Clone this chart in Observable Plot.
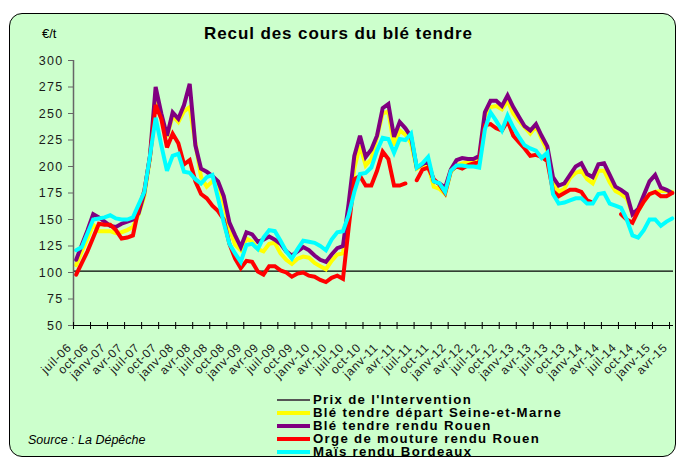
<!DOCTYPE html>
<html><head><meta charset="utf-8">
<script src="https://cdn.jsdelivr.net/npm/d3@7"></script>
<script src="https://cdn.jsdelivr.net/npm/@observablehq/plot@0.6"></script>
<style>
html,body{margin:0;padding:0;background:#fff;}
#wrap{position:relative;width:677px;height:459px;overflow:hidden;font-family:"Liberation Sans",Arial,sans-serif;color:#000;}
#panel{position:absolute;left:9px;top:13px;width:667px;height:444px;background:#ccffcc;border:1.5px solid #000;border-radius:13px;box-sizing:border-box;}
#chart{position:absolute;left:0;top:0;}
#title{position:absolute;left:0;width:677px;top:24px;text-align:center;font-weight:bold;font-size:17px;letter-spacing:0.9px;}
#unit{position:absolute;left:42px;top:26px;font-size:13px;}
#caption{position:absolute;left:28px;top:433px;font-size:12.5px;font-style:italic;}
.lg{position:absolute;left:277px;height:13px;display:flex;align-items:center;}
.sw{width:33px;margin-right:3px;}
.lt{font-weight:bold;font-size:12px;letter-spacing:1.2px;white-space:nowrap;transform:scaleX(1.1);transform-origin:left center;}
</style></head>
<body>
<div id="wrap">
  <div id="panel"></div>
  <div id="chart"></div>
  <div id="unit">€/t</div>
  <div id="title">Recul des cours du blé tendre</div>
  <div id="legend"></div>
  <div id="caption">Source : La Dépêche</div>
</div>
<script>
// Monthly values, juil-06 .. avr-15 (106 months)
const bleSeineEtMarne = [107,120,132,145,139,139,139,137,138,140, 143,155,172,208,268,245,228,248,242,252, 256,222,190,181,186,185,165,142,126,121, 132,129,122,120,127,128,118,112,108,113, 115,114,109,106,103,111,117,118,155,198, 220,201,207,228,250,252,220,234,230,222, 198,201,201,181,179,174,195,201,203,204, 205,207,248,256,257,254,262,250,243,237, 231,238,226,215,186,176,179,189,194,196, 188,184,196,196,185,177,174,170,155,158, 167,174,176,177,177,176];
const bleRouen = [112,126,140,155,152,148,144,143,146,148, 150,156,175,210,275,250,229,251,245,258, 278,220,198,195,191,186,172,147,135,124, 138,136,129,131,134,131,127,120,116,120, 124,121,116,112,110,117,123,125,165,210, 229,209,216,229,255,259,228,242,236,228, 199,202,205,186,184,180,197,206,208,207, 207,210,251,262,262,257,267,256,247,238, 234,240,229,219,190,182,184,192,200,203, 193,190,202,203,192,181,178,174,155,160, 173,186,192,180,178,175];
const orgeRouen = [98,109,120,133,146,145,145,140,132,133, 135,160,177,209,258,245,218,231,222,202, 206,186,174,170,163,158,150,127,113,104, 111,110,101,98,106,106,102,100,96,99, 100,97,96,93,91,95,97,94,142,188, 191,182,182,196,214,207,182,182,184,null, 187,197,199,188,183,175,196,200,198,201, 203,204,239,240,236,234,243,229,223,217, 210,211,209,205,177,172,175,178,178,176, 168,166,null,null,null,null,155,150,147,158, 167,174,176,172,172,175];
const maisBordeaux = [121,124,137,150,151,152,154,151,150,150, 152,164,176,210,246,220,196,210,212,195, 194,188,184,190,192,170,147,127,118,110, 126,127,122,133,140,139,130,120,113,122, 130,129,128,125,121,131,138,139,154,176, 193,194,199,215,227,226,213,226,225,231, 199,203,209,186,184,176,196,201,201,200, 200,199,235,251,243,234,248,237,228,220, 217,215,208,213,174,165,166,168,170,170, 165,165,174,175,165,163,161,150,135,133, 140,150,150,144,148,151];
const prixIntervention = [101.31];

const tickLabels = ["juil-06","oct-06","janv-07","avr-07","juil-07","oct-07","janv-08","avr-08","juil-08","oct-08","janv-09","avr-09","juil-09","oct-09","janv-10","avr-10","juil-10","oct-10","janv-11","avr-11","juil-11","oct-11","janv-12","avr-12","juil-12","oct-12","janv-13","avr-13","juil-13","oct-13","janv-14","avr-14","juil-14","oct-14","janv-15","avr-15"];
const yTicks = [50,75,100,125,150,175,200,225,250,275,300];

const seriesNames = ["Prix de l'Intervention","Blé tendre départ Seine-et-Marne","Blé tendre rendu Rouen","Orge de mouture rendu Rouen","Maïs rendu Bordeaux"];
const seriesColors = ["#555555","#ffff00","#800080","#ff0000","#00ffff"];

// month index: 0 = juillet 2006 (start of month); values are mid-month
const midMonth = 0.47;
const toRows = (arr) => arr.map((v, i) => ({m: i + midMonth, v}));
const tickPos = tickLabels.map((_, i) => i * 3);

const lineOpts = (color) => ({x: "m", y: "v", stroke: color, strokeWidth: 4, strokeLinejoin: "miter", strokeMiterlimit: 3, curve: "linear"});

const chart = Plot.plot({
  width: 677, height: 459,
  marginLeft: 73, marginRight: 4, marginTop: 60, marginBottom: 134,
  style: {background: "transparent", fontFamily: "'Liberation Sans', Arial, sans-serif", color: "#111", overflow: "visible"},
  x: {type: "linear", domain: [0, 105.7], label: null},
  y: {domain: [50, 300], label: null},
  marks: [
    Plot.ruleY(prixIntervention, {stroke: "#000", strokeWidth: 1.3}),
    Plot.line(toRows(bleSeineEtMarne), lineOpts(seriesColors[1])),
    Plot.line(toRows(bleRouen), lineOpts(seriesColors[2])),
    Plot.line(toRows(orgeRouen), lineOpts(seriesColors[3])),
    Plot.line(toRows(maisBordeaux), lineOpts(seriesColors[4])),
    Plot.ruleX([0], {stroke: "#666", strokeWidth: 1.5}),
    Plot.ruleY([50], {stroke: "#000", strokeWidth: 1.2}),
    Plot.axisY({ticks: yTicks, tickSize: 5, tickPadding: 5, stroke: "#666", fontSize: 12.5, fill: "#1a1a1a", label: null}),
    Plot.axisX({ticks: tickPos, tickSize: 7, dy: -3, fill: "none", stroke: "#000", label: null}),
    Plot.axisX({ticks: tickPos, tickSize: 0, tickPadding: 20, dx: -4, tickRotate: -45, tickFormat: d => tickLabels[Math.round(d / 3)], fontSize: 12, fill: "#1a1a1a", label: null})
  ]
});
document.getElementById("chart").appendChild(chart);

// letter-spacing on tick labels to mimic the stretched original
chart.querySelectorAll("text").forEach(t => {
  if (!t.getAttribute("transform") || !t.getAttribute("transform").includes("rotate")) {
    t.style.letterSpacing = "1.3px";
  } else {
    t.style.letterSpacing = "0.7px";
  }
});

const legend = document.getElementById("legend");
seriesNames.forEach((name, i) => {
  const row = document.createElement("div");
  row.className = "lg";
  row.style.top = (393 + i * 13) + "px";
  const sw = document.createElement("div");
  sw.className = "sw";
  sw.style.height = (i === 0 ? 2 : 4) + "px";
  sw.style.background = seriesColors[i];
  const tx = document.createElement("span");
  tx.className = "lt";
  tx.textContent = name;
  row.appendChild(sw); row.appendChild(tx);
  legend.appendChild(row);
});
</script>
</body></html>
